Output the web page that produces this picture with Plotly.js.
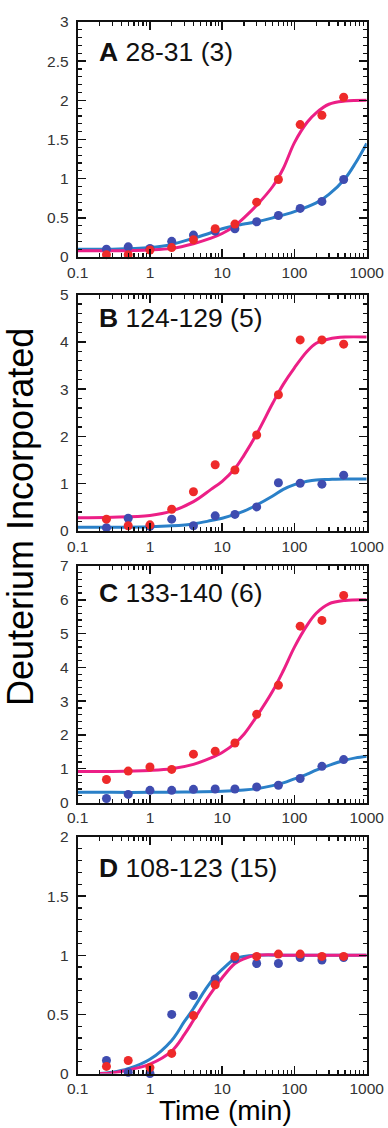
<!DOCTYPE html>
<html>
<head>
<meta charset="utf-8">
<script src="https://cdn.plot.ly/plotly-3.0.1.min.js"></script>
<style>html,body{margin:0;padding:0;background:#fff;}#chart{width:388px;height:1128px;}</style>
</head>
<body>
<div id="chart"></div>
<script>
// Measured time points (min)
const times = [0.25, 0.5, 1, 2, 4, 8, 15, 30, 60, 120, 240, 480];

// Panel A 28-31 (3)
const redA  = [0.03, 0.03, 0.09, 0.12, 0.22, 0.36, 0.42, 0.70, 0.99, 1.69, 1.81, 2.04];
const blueA = [0.10, 0.13, 0.11, 0.20, 0.28, 0.33, 0.36, 0.45, 0.53, 0.62, 0.71, 0.99];
const fitRedAx  = [0.1, 0.3, 1, 2, 4, 7, 10, 15, 20, 30, 50, 70, 100, 150, 200, 300, 500, 1000];
const fitRedAy  = [0.08, 0.08, 0.09, 0.11, 0.17, 0.24, 0.30, 0.40, 0.50, 0.66, 0.90, 1.13, 1.46, 1.72, 1.84, 1.95, 1.99, 2.0];
const fitBlueAx = [0.1, 0.3, 1, 2, 4, 7, 10, 15, 20, 30, 50, 100, 200, 300, 500, 700, 1000];
const fitBlueAy = [0.10, 0.10, 0.12, 0.16, 0.24, 0.31, 0.36, 0.40, 0.42, 0.45, 0.50, 0.58, 0.69, 0.80, 1.0, 1.2, 1.45];

// Panel B 124-129 (5)
const redB  = [0.25, 0.11, 0.13, 0.46, 0.83, 1.40, 1.29, 2.03, 2.88, 4.04, 4.04, 3.95];
const blueB = [0.07, 0.27, 0.10, 0.25, 0.11, 0.32, 0.35, 0.51, 1.02, 1.01, 0.99, 1.18];
const fitRedBx  = [0.1, 0.3, 1, 2, 4, 7, 10, 15, 20, 30, 50, 70, 100, 150, 200, 300, 500, 1000];
const fitRedBy  = [0.28, 0.29, 0.33, 0.42, 0.62, 0.88, 1.05, 1.32, 1.6, 2.05, 2.7, 3.1, 3.45, 3.8, 3.97, 4.06, 4.1, 4.1];
const fitBlueBx = [0.1, 0.3, 1, 2, 4, 7, 10, 15, 20, 30, 50, 70, 100, 150, 200, 300, 500, 1000];
const fitBlueBy = [0.08, 0.08, 0.09, 0.11, 0.15, 0.22, 0.27, 0.35, 0.42, 0.55, 0.74, 0.88, 0.98, 1.05, 1.08, 1.09, 1.1, 1.1];

// Panel C 133-140 (6)
const redC  = [0.68, 0.93, 1.05, 0.98, 1.43, 1.52, 1.76, 2.61, 3.47, 5.22, 5.39, 6.13];
const blueC = [0.12, 0.24, 0.36, 0.36, 0.39, 0.40, 0.40, 0.46, 0.51, 0.71, 1.07, 1.27];
const fitRedCx  = [0.1, 0.3, 1, 2, 4, 7, 10, 15, 20, 30, 50, 70, 100, 150, 200, 300, 500, 1000];
const fitRedCy  = [0.92, 0.92, 0.95, 1.0, 1.13, 1.32, 1.48, 1.75, 2.02, 2.55, 3.3, 3.9, 4.6, 5.25, 5.6, 5.88, 5.98, 6.0];
const fitBlueCx = [0.1, 0.3, 1, 3, 10, 20, 30, 50, 70, 100, 150, 200, 300, 500, 700, 1000];
const fitBlueCy = [0.3, 0.3, 0.3, 0.31, 0.33, 0.37, 0.41, 0.5, 0.58, 0.7, 0.84, 0.96, 1.1, 1.25, 1.32, 1.37];

// Panel D 108-123 (15)
const redD  = [0.06, 0.11, 0.05, 0.17, 0.49, 0.75, 0.99, 0.99, 1.01, 1.01, 0.99, 0.99];
const blueD = [0.11, 0.01, 0.0, 0.50, 0.66, 0.80, 0.97, 0.93, 0.93, 0.98, 0.96, 0.98];
const fitRedDx  = [0.2, 0.3, 0.5, 1, 2, 3, 4, 6, 8, 10, 15, 20, 30, 100, 1000];
const fitRedDy  = [0, 0.005, 0.03, 0.08, 0.19, 0.33, 0.45, 0.62, 0.73, 0.81, 0.93, 0.97, 1.0, 1.0, 1.0];
const fitBlueDx = [0.2, 0.3, 0.5, 1, 2, 3, 4, 6, 8, 10, 15, 20, 30, 100, 1000];
const fitBlueDy = [0, 0.01, 0.04, 0.12, 0.28, 0.44, 0.55, 0.72, 0.82, 0.88, 0.97, 0.99, 1.0, 1.0, 1.0];

const panelLabels = ["A", "B", "C", "D"];
const panelTitles = ["28-31 (3)", "124-129 (5)", "133-140 (6)", "108-123 (15)"];
const yMax = [3, 5, 7, 2];
const yMajor = [0.5, 1, 1, 0.5];
const yMinor = [0.1, 0.2, 0.2, 0.1];
const xTickVals = [0.1, 1, 10, 100, 1000];
const xTickText = ["0.1", "1", "10", "100", "1000"];

const W = 388, H = 1128;
const panelTopPx = [22, 294.5, 566, 837];
const panelBotPx = [257, 531, 802.5, 1073.5];
const labelYPx = [52, 317.5, 593, 868];
const plotL = 77.7, plotR = 366.7;

const PINK = '#ec1f86', BLUELINE = '#2a80c8', RED = '#ee2a2a', BLUE = '#3f4cb0';

const panels = [
  [fitRedAx, fitRedAy, fitBlueAx, fitBlueAy, redA, blueA],
  [fitRedBx, fitRedBy, fitBlueBx, fitBlueBy, redB, blueB],
  [fitRedCx, fitRedCy, fitBlueCx, fitBlueCy, redC, blueC],
  [fitRedDx, fitRedDy, fitBlueDx, fitBlueDy, redD, blueD]
];

const traces = [];
const layout = {
  width: W, height: H,
  margin: {l: 0, r: 0, t: 0, b: 0},
  paper_bgcolor: '#fff', plot_bgcolor: '#fff',
  showlegend: false,
  font: {family: 'Liberation Sans, Arial, sans-serif', color: '#222'},
  annotations: []
};

panels.forEach((p, i) => {
  const n = i === 0 ? '' : String(i + 1);
  const xa = 'x' + n, ya = 'y' + n;
  traces.push({x: p[2], y: p[3], xaxis: xa, yaxis: ya, mode: 'lines', line: {color: BLUELINE, width: 3, shape: 'spline', smoothing: 1}, cliponaxis: false, hoverinfo: 'skip'});
  traces.push({x: p[0], y: p[1], xaxis: xa, yaxis: ya, mode: 'lines', line: {color: PINK, width: 3, shape: 'spline', smoothing: 1}, cliponaxis: false, hoverinfo: 'skip'});
  traces.push({x: times, y: p[5], xaxis: xa, yaxis: ya, mode: 'markers', marker: {color: BLUE, size: 9}, cliponaxis: false});
  traces.push({x: times, y: p[4], xaxis: xa, yaxis: ya, mode: 'markers', marker: {color: RED, size: 9}, cliponaxis: false});

  const y0 = 1 - panelBotPx[i] / H, y1 = 1 - panelTopPx[i] / H;
  layout['xaxis' + n] = {
    type: 'log', range: [-1, 3], domain: [plotL / W, plotR / W], anchor: ya,
    tickmode: 'array', tickvals: xTickVals, ticktext: xTickText,
    ticks: 'inside', ticklen: 8, tickwidth: 1.5, tickcolor: '#111',
    minor: {ticks: 'inside', ticklen: 4, tickwidth: 1.2, tickcolor: '#111', dtick: 'D1', showgrid: false},
    showline: true, linecolor: '#111', linewidth: 2, mirror: 'allticks',
    showgrid: false, zeroline: false,
    tickfont: {size: 15.5, color: '#333'}
  };
  layout['yaxis' + n] = {
    range: [0, yMax[i]], domain: [y0, y1], anchor: xa,
    tick0: 0, dtick: yMajor[i],
    ticks: 'inside', ticklen: 8, tickwidth: 1.5, tickcolor: '#111',
    minor: {ticks: 'inside', ticklen: 4, tickwidth: 1.2, tickcolor: '#111', dtick: yMinor[i], showgrid: false},
    showline: true, linecolor: '#111', linewidth: 2, mirror: 'allticks',
    showgrid: false, zeroline: false,
    ticklabelstandoff: 4,
    tickfont: {size: 15.5, color: '#333'}
  };
  layout.annotations.push({
    xref: 'paper', yref: 'paper', x: 97 / W, y: 1 - labelYPx[i] / H,
    xanchor: 'left', yanchor: 'middle', showarrow: false,
    text: '<b>' + panelLabels[i] + '</b> ' + panelTitles[i],
    font: {size: 26.5, color: '#111', family: 'Liberation Sans, Arial, sans-serif'}
  });
});

layout.annotations.push({
  xref: 'paper', yref: 'paper', x: 225 / W, y: 1 - 1110.5 / H,
  xanchor: 'center', yanchor: 'middle', showarrow: false, borderpad: 0,
  text: 'Time (min)', font: {size: 28, color: '#000'}
});
layout.annotations.push({
  xref: 'paper', yref: 'paper', x: 21 / W, y: 1 - 517 / H,
  xanchor: 'center', yanchor: 'middle', showarrow: false, textangle: -90,
  text: 'Deuterium Incorporated', font: {size: 36, color: '#000'}
});

Plotly.newPlot('chart', traces, layout, {displayModeBar: false, staticPlot: true});
</script>
</body>
</html>
